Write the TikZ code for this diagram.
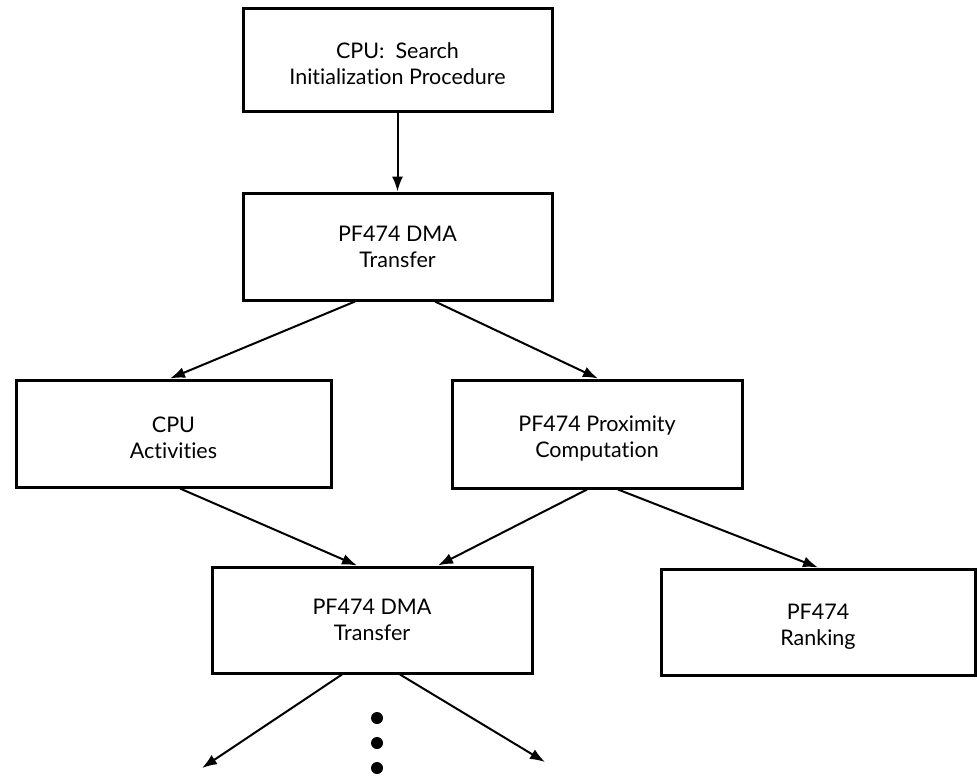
\documentclass[tikz,border=0pt]{standalone}
\usepackage{fontspec}
\setmainfont{Lato}[Ligatures={NoCommon}]
\usetikzlibrary{arrows.meta}
\newcommand{\topstrut}{\rule{0pt}{24pt}}
\begin{document}
\begin{tikzpicture}[x=1pt,y=-1pt,
  box/.style={draw,line width=3pt,rectangle,align=center,inner sep=0pt,
    font=\fontsize{21.5}{26}\selectfont},
  conn/.style={line width=2pt,-{Latex[length=15pt,width=11pt]}}]
\useasboundingbox (0,0) rectangle (977,776);
\fill[white] (0,0) rectangle (977,776);
\node[box,minimum width=309pt,minimum height=102pt] (b1) at (397.5,60) {\topstrut CPU:\ \ Search\\Initialization Procedure};
\node[box,minimum width=309pt,minimum height=107pt] (b2) at (397.5,246.5) {PF474 DMA\\Transfer};
\node[box,minimum width=315pt,minimum height=107pt] (b3) at (173.5,433.5) {\topstrut CPU\\Activities};
\node[box,minimum width=290pt,minimum height=108pt] (b4) at (597,434) {\topstrut PF474 Proximity\\Computation};
\node[box,minimum width=320pt,minimum height=106pt] (b5) at (372,620) {PF474 DMA\\Transfer};
\node[box,minimum width=314pt,minimum height=106pt] (b6) at (818,622) {\topstrut PF474\\Ranking};
\coordinate (e1) at (202,768);
\coordinate (e2) at (545,762);
\draw[conn] (b1.south) -- (b2.north);
\draw[conn] ([xshift=-42.5pt]b2.south) -- ([xshift=-3.5pt]b3.north);
\draw[conn] ([xshift=37.5pt]b2.south) -- ([xshift=1pt]b4.north);
\draw[conn] ([xshift=6.5pt]b3.south) -- ([xshift=-15pt]b5.north);
\draw[conn] ([xshift=-10pt]b4.south) -- ([xshift=66pt]b5.north);
\draw[conn] ([xshift=21pt]b4.south) -- (b6.north);
\draw[conn] ([xshift=-30pt]b5.south) -- (e1);
\draw[conn] ([xshift=28pt]b5.south) -- (e2);
\foreach \yy [count=\i] in {718,743,768} \fill (377,\yy) circle (6pt) coordinate (d\i);
\end{tikzpicture}
\end{document}
